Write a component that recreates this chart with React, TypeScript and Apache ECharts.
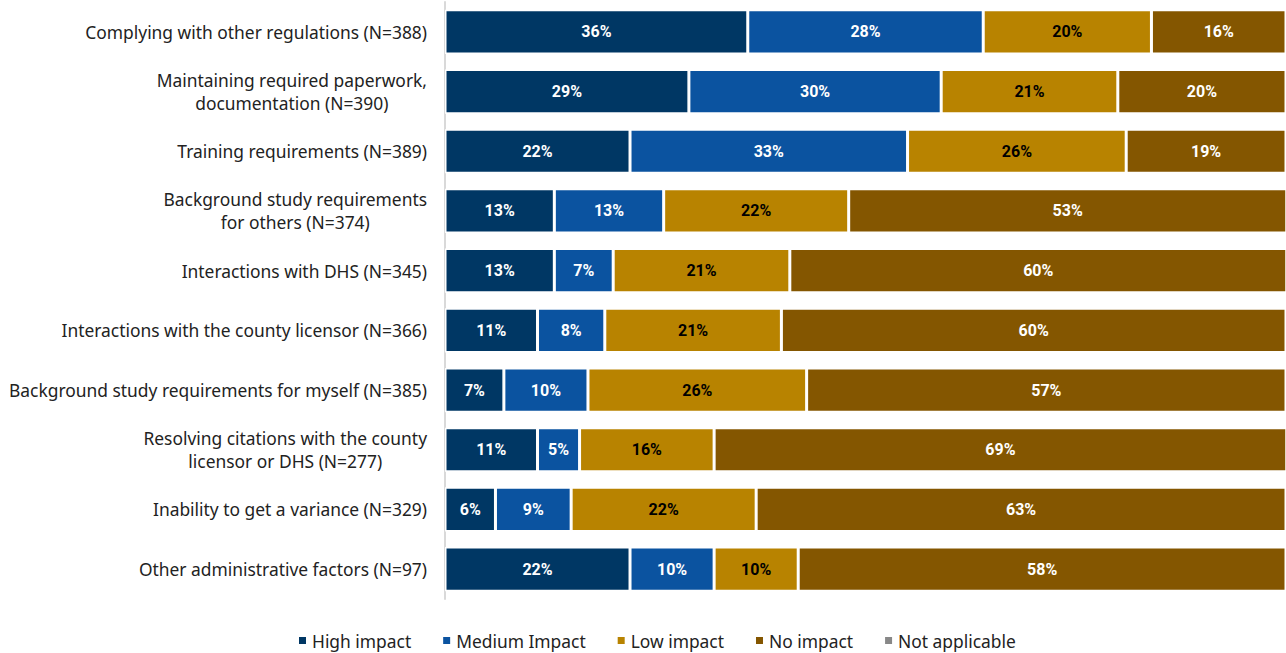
import React, { useEffect, useRef } from "react";
import * as echarts from "echarts";

const categories = [
  "Complying with other regulations (N=388)",
  "Maintaining required paperwork,\ndocumentation (N=390)",
  "Training requirements (N=389)",
  "Background study requirements\nfor others (N=374)",
  "Interactions with DHS (N=345)",
  "Interactions with the county licensor (N=366)",
  "Background study requirements for myself (N=385)",
  "Resolving citations with the county\nlicensor or DHS (N=277)",
  "Inability to get a variance (N=329)",
  "Other administrative factors (N=97)",
];

const highImpact = [36, 29, 22, 13, 13, 11, 7, 11, 6, 22];
const mediumImpact = [28, 30, 33, 13, 7, 8, 10, 5, 9, 10];
const lowImpact = [20, 21, 26, 22, 21, 21, 26, 16, 22, 10];
const noImpact = [16, 20, 19, 53, 60, 60, 57, 69, 63, 58];
const notApplicable = [0, 0, 0, 0, 0, 0, 0, 0, 0, 0];

const seriesNames = ["High impact", "Medium Impact", "Low impact", "No impact", "Not applicable"];
const seriesData = [highImpact, mediumImpact, lowImpact, noImpact, notApplicable];
const colors = ["#003764", "#0b53a0", "#b88300", "#845600", "#888888"];
const labelColors = ["#ffffff", "#ffffff", "#000000", "#ffffff", "#ffffff"];

const FONT = "Noto Sans";
const FS = 17.4;

export default function App() {
  const ref = useRef<HTMLDivElement>(null);
  useEffect(() => {
    document.body.style.margin = "0";
    const chart = echarts.init(ref.current!, null, { renderer: "svg" });
    chart.setOption({
      animation: false,
      grid: { left: 445, right: 0, top: 2, bottom: 54 },
      legend: {
        data: seriesNames,
        top: 632,
        left: 297,
        padding: 0,
        icon: "rect",
        itemWidth: 9,
        itemHeight: 9,
        itemGap: 30,
        textStyle: { fontSize: FS, color: "#222", fontFamily: FONT },
      },
      xAxis: {
        type: "value",
        min: 0,
        max: 100,
        show: false,
      },
      yAxis: {
        type: "category",
        data: categories,
        inverse: true,
        axisTick: { show: false },
        axisLine: { show: true, lineStyle: { color: "#d9d9d9", width: 2 } },
        axisLabel: {
          margin: 18,
          align: "right",
          fontSize: FS,
          fontFamily: FONT,
          color: "#222",
          lineHeight: 23,
          formatter: (v: string) =>
            v
              .split("\n")
              .map((l) => "{c|" + l + "}")
              .join("\n"),
          rich: {
            c: { align: "center", fontSize: FS, fontFamily: FONT, color: "#222", lineHeight: 23 },
          },
        },
      },
      series: seriesData.map((d, i) => ({
        name: seriesNames[i],
        type: "bar",
        stack: "total",
        data: d,
        barCategoryGap: "26%",
        itemStyle: { color: colors[i], borderColor: "#ffffff", borderWidth: 1.5 },
        label: {
          show: true,
          position: "inside",
          color: labelColors[i],
          fontWeight: "bold",
          fontSize: 16,
          fontFamily: "Roboto",
          formatter: (p: any) => (p.value ? p.value + "%" : ""),
        },
      })),
    });
    return () => chart.dispose();
  }, []);
  return <div ref={ref} style={{ width: 1286, height: 653 }} />;
}
